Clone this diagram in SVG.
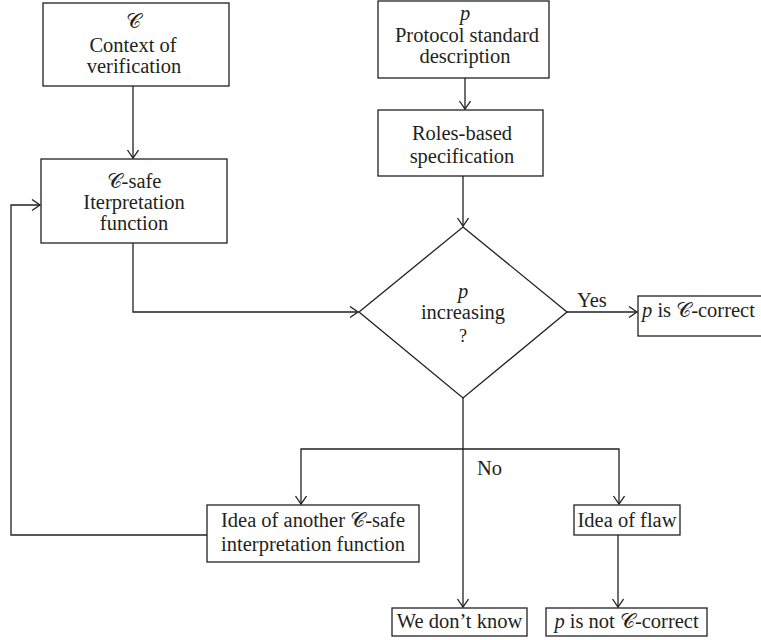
<svg xmlns="http://www.w3.org/2000/svg" width="761" height="640" viewBox="0 0 761 640">
<style>
text{font-family:"Liberation Serif","Times New Roman",serif;font-size:20.5px;fill:#231f20;text-anchor:middle}
.l{text-anchor:start}
.i{font-style:italic}
.c{font-family:"DejaVu Serif","DejaVu Sans",serif;font-style:normal}
.q{font-size:18px}
.box{fill:#fff;stroke:#231f20;stroke-width:1.3}
.cn{fill:none;stroke:#231f20;stroke-width:1.3}
</style>
<defs>
<marker id="ah" markerUnits="userSpaceOnUse" markerWidth="12" markerHeight="14" refX="9" refY="6" orient="auto">
<path d="M1,0.5 L9,6 L1,11.5" fill="none" stroke="#231f20" stroke-width="1.3"/>
</marker>
</defs>
<g id="connectors">
<path class="cn" d="M133,86 V158" marker-end="url(#ah)"/>
<path class="cn" d="M133,243 V312 H358" marker-end="url(#ah)"/>
<path class="cn" d="M465,78 V109" marker-end="url(#ah)"/>
<path class="cn" d="M463,176 V226" marker-end="url(#ah)"/>
<path class="cn" d="M566,312 H637" marker-end="url(#ah)"/>
<path class="cn" d="M463,398 V607" marker-end="url(#ah)"/>
<path class="cn" d="M463,449 H301 V504" marker-end="url(#ah)"/>
<path class="cn" d="M463,449 H619 V504" marker-end="url(#ah)"/>
<path class="cn" d="M207,535 H11 V205 H40" marker-end="url(#ah)"/>
<path class="cn" d="M618,535 V607" marker-end="url(#ah)"/>
<text class="l" x="577" y="307">Yes</text>
<text class="l" x="477" y="475">No</text>
</g>
<g id="context">
<rect class="box" x="43" y="3" width="186" height="83"/>
<text x="133" y="28"><tspan class="c">𝒞</tspan></text>
<text x="133" y="52">Context of</text>
<text x="134" y="73">verification</text>
</g>
<g id="safe">
<rect class="box" x="41" y="159" width="186" height="84"/>
<text x="134" y="188"><tspan class="c">𝒞</tspan>-safe</text>
<text x="134" y="209">Iterpretation</text>
<text x="134" y="230">function</text>
</g>
<g id="protocol">
<rect class="box" x="378" y="1" width="171" height="77"/>
<text class="i" x="465" y="20">p</text>
<text x="467" y="42">Protocol standard</text>
<text x="465" y="63">description</text>
</g>
<g id="roles">
<rect class="box" x="378" y="110" width="165" height="66"/>
<text x="462" y="140">Roles-based</text>
<text x="462" y="163">specification</text>
</g>
<g id="decision">
<polygon class="box" points="463,227 567,312 463,398 359,312"/>
<text class="i" x="463" y="298">p</text>
<text x="463" y="319">increasing</text>
<text class="q" x="463" y="342">?</text>
</g>
<g id="correct">
<rect class="box" x="638" y="296" width="130" height="40"/>
<text class="l" x="642" y="317"><tspan class="i">p</tspan> is <tspan class="c">𝒞</tspan>-correct</text>
</g>
<g id="another">
<rect class="box" x="207" y="505" width="212" height="57"/>
<text x="313" y="527">Idea of another <tspan class="c">𝒞</tspan>-safe</text>
<text x="313" y="551">interpretation function</text>
</g>
<g id="flaw">
<rect class="box" x="574" y="505" width="106" height="30"/>
<text x="627" y="527">Idea of flaw</text>
</g>
<g id="dontknow">
<rect class="box" x="392" y="608" width="135" height="28"/>
<text x="459.5" y="628">We don’t know</text>
</g>
<g id="notcorrect">
<rect class="box" x="546" y="608" width="161" height="28"/>
<text x="626.5" y="628"><tspan class="i">p</tspan> is not <tspan class="c">𝒞</tspan>-correct</text>
</g>
</svg>
